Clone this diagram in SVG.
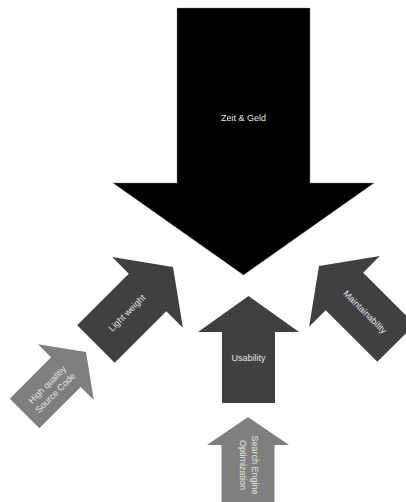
<svg xmlns="http://www.w3.org/2000/svg" width="406" height="502" viewBox="0 0 406 502">
<defs>
<style>
.dark{fill:#404040}
.light{fill:#7f7f7f}
.lbl{font-family:"Liberation Sans",Arial,sans-serif;font-size:9px;fill:#e6e6e6;text-anchor:middle}
</style>
<path id="arr" d="M0,0 L50,36 L26.5,36 L26.5,109 L-26.5,109 L-26.5,36 L-50,36 Z"/>
</defs>
<rect width="406" height="502" fill="#ffffff"/>
<g id="zeit-geld">
<path d="M177,8 L310,8 L310,183 L374,183 L243.5,275 L113,183 L177,183 Z" fill="#000000" stroke="#888" stroke-width="0.4"/>
<text class="lbl" x="243.5" y="121" fill="#ffffff">Zeit &amp; Geld</text>
</g>
<g id="usability">
<path class="dark" d="M248.5,296 L299,332 L275,332 L275,403 L222,403 L222,332 L198,332 Z"/>
<text class="lbl" x="248.5" y="361">Usability</text>
</g>
<g id="light-weight">
<use href="#arr" class="dark" transform="translate(173,267) rotate(45)"/>
<text class="lbl" transform="translate(127,313) rotate(-45)" x="0" y="3">Light weight</text>
</g>
<g id="maintainability">
<use href="#arr" class="dark" transform="translate(319,266) rotate(-45)"/>
<text class="lbl" transform="translate(365,312) rotate(45)" x="0" y="3">Maintainability</text>
</g>
<g id="high-quality">
<path class="light" transform="translate(86,352) rotate(45) scale(0.79)" d="M0,0 L50,36 L26.5,36 L26.5,110 L-26.5,110 L-26.5,36 L-50,36 Z"/>
<text class="lbl" transform="translate(51.5,389) rotate(-45)"><tspan x="0" y="-3">High qualitiy</tspan><tspan x="0" y="8.5">Source Code</tspan></text>
</g>
<g id="seo">
<path class="light" d="M248,417 L289,445 L274.5,445 L274.5,510 L221.5,510 L221.5,445 L207,445 Z"/>
<text class="lbl" transform="translate(248.5,465) rotate(90)"><tspan x="0" y="-3.5">Search Engine</tspan><tspan x="0" y="8.5">Optimization</tspan></text>
</g>
<g id="connectors"></g>
</svg>
